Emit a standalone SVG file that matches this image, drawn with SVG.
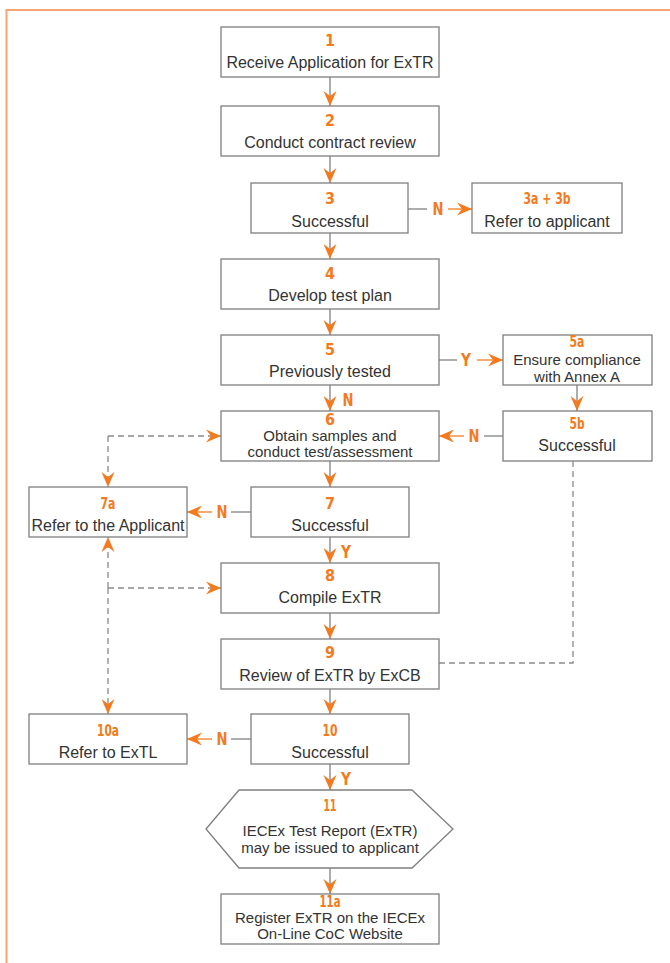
<svg xmlns="http://www.w3.org/2000/svg" width="670" height="963" viewBox="0 0 670 963">
<defs>
<style>
.box{fill:#fff;stroke:#7f7f7f;stroke-width:1.3}
.t{font-family:"Liberation Sans",Arial,sans-serif;font-size:16px;fill:#333;text-anchor:middle}
.s{font-size:15px}
.n{font-family:"Liberation Sans Narrow","DejaVu Sans Condensed","Liberation Sans",sans-serif;font-weight:bold;font-size:16px;fill:#F47A20;text-anchor:middle}
.lab{font-size:18px}
.c{stroke:#808080;stroke-width:1.3;fill:none}
.co{stroke:#F47A20;stroke-width:1.3;fill:none}
.d{stroke:#8a8a8a;stroke-width:1.3;fill:none;stroke-dasharray:6 4}
.frame{stroke:#F8A472;stroke-width:2;fill:none}
</style>
<marker id="ah" viewBox="-16 -8 17 16" refX="0" refY="0" markerWidth="17" markerHeight="16" markerUnits="userSpaceOnUse" orient="auto">
<path d="M0,0 L-15,-6.5 L-10,0 L-15,6.5 Z" fill="#F47A20"/>
</marker>
</defs>
<rect width="670" height="963" fill="#fff"/>
<path class="frame" d="M6.5,963 V10 H670"/>

<g id="connectors">
<path class="c" d="M330,77 V106" marker-end="url(#ah)"/>
<path class="c" d="M330,156 V183" marker-end="url(#ah)"/>
<path class="c" d="M330,233 V259" marker-end="url(#ah)"/>
<path class="c" d="M330,309 V335" marker-end="url(#ah)"/>
<path class="c" d="M330,385 V411" marker-end="url(#ah)"/>
<path class="c" d="M330,461 V487" marker-end="url(#ah)"/>
<path class="c" d="M330,537 V563" marker-end="url(#ah)"/>
<path class="c" d="M330,613 V639" marker-end="url(#ah)"/>
<path class="c" d="M330,689 V714" marker-end="url(#ah)"/>
<path class="c" d="M330,764 V790" marker-end="url(#ah)"/>
<path class="c" d="M330,868 V894" marker-end="url(#ah)"/>
<path class="c" d="M577,385 V411" marker-end="url(#ah)"/>
<path class="c" d="M408,209 H427"/>
<path class="co" d="M448,209 H472" marker-end="url(#ah)"/>
<path class="c" d="M439,360 H457"/>
<path class="co" d="M477,360 H503" marker-end="url(#ah)"/>
<path class="c" d="M503,436 H484"/>
<path class="co" d="M464,436 H439" marker-end="url(#ah)"/>
<path class="c" d="M251,512 H231"/>
<path class="co" d="M212,512 H187" marker-end="url(#ah)"/>
<path class="c" d="M251,739 H231"/>
<path class="co" d="M212,739 H187" marker-end="url(#ah)"/>
<path class="d" d="M108,436 H221" marker-end="url(#ah)"/>
<path class="d" d="M108,436 V487" marker-end="url(#ah)"/>
<path class="d" d="M108,588 V537" marker-end="url(#ah)"/>
<path class="d" d="M108,588 V714" marker-end="url(#ah)"/>
<path class="d" d="M108,588 H221" marker-end="url(#ah)"/>
<path class="d" d="M439,663 H573 V461"/>
<text class="n lab" x="438" y="215" textLength="11" lengthAdjust="spacingAndGlyphs">N</text>
<text class="n lab" x="466" y="366" textLength="10" lengthAdjust="spacingAndGlyphs">Y</text>
<text class="n lab" x="348" y="406" textLength="11" lengthAdjust="spacingAndGlyphs">N</text>
<text class="n lab" x="474" y="442" textLength="11" lengthAdjust="spacingAndGlyphs">N</text>
<text class="n lab" x="222" y="518" textLength="11" lengthAdjust="spacingAndGlyphs">N</text>
<text class="n lab" x="346" y="558" textLength="10" lengthAdjust="spacingAndGlyphs">Y</text>
<text class="n lab" x="222" y="745" textLength="11" lengthAdjust="spacingAndGlyphs">N</text>
<text class="n lab" x="346" y="785" textLength="10" lengthAdjust="spacingAndGlyphs">Y</text>
</g>

<g id="n1"><rect class="box" x="221" y="27" width="218" height="50"/>
<text class="n" x="330" y="46">1</text><text class="t" x="330" y="68">Receive Application for ExTR</text></g>
<g id="n2"><rect class="box" x="221" y="106" width="218" height="50"/>
<text class="n" x="330" y="126">2</text><text class="t" x="330" y="148">Conduct contract review</text></g>
<g id="n3"><rect class="box" x="251" y="183" width="157" height="50"/>
<text class="n" x="330" y="204">3</text><text class="t" x="330" y="227">Successful</text></g>
<g id="n3a"><rect class="box" x="472" y="183" width="150" height="50"/>
<text class="n" x="547" y="204" textLength="47" lengthAdjust="spacingAndGlyphs">3a + 3b</text><text class="t" x="547" y="227">Refer to applicant</text></g>
<g id="n4"><rect class="box" x="221" y="259" width="218" height="50"/>
<text class="n" x="330" y="279">4</text><text class="t" x="330" y="301">Develop test plan</text></g>
<g id="n5"><rect class="box" x="221" y="335" width="218" height="50"/>
<text class="n" x="330" y="355">5</text><text class="t" x="330" y="377">Previously tested</text></g>
<g id="n5a"><rect class="box" x="503" y="335" width="149" height="50"/>
<text class="n" x="577" y="347" textLength="15" lengthAdjust="spacingAndGlyphs">5a</text><text class="t s" x="577" y="365">Ensure compliance</text><text class="t s" x="577" y="382">with Annex A</text></g>
<g id="n6"><rect class="box" x="221" y="411" width="218" height="50"/>
<text class="n" x="330" y="425">6</text><text class="t s" x="330" y="441">Obtain samples and</text><text class="t s" x="330" y="457">conduct test/assessment</text></g>
<g id="n5b"><rect class="box" x="503" y="411" width="149" height="50"/>
<text class="n" x="577" y="429" textLength="15" lengthAdjust="spacingAndGlyphs">5b</text><text class="t" x="577" y="451">Successful</text></g>
<g id="n7a"><rect class="box" x="29" y="487" width="158" height="50"/>
<text class="n" x="108" y="509" textLength="15" lengthAdjust="spacingAndGlyphs">7a</text><text class="t" x="108" y="531">Refer to the Applicant</text></g>
<g id="n7"><rect class="box" x="251" y="487" width="158" height="50"/>
<text class="n" x="330" y="509">7</text><text class="t" x="330" y="531">Successful</text></g>
<g id="n8"><rect class="box" x="221" y="563" width="218" height="50"/>
<text class="n" x="330" y="581">8</text><text class="t" x="330" y="603">Compile ExTR</text></g>
<g id="n9"><rect class="box" x="221" y="639" width="218" height="50"/>
<text class="n" x="330" y="658">9</text><text class="t" x="330" y="681">Review of ExTR by ExCB</text></g>
<g id="n10a"><rect class="box" x="29" y="714" width="158" height="50"/>
<text class="n" x="108" y="736" textLength="22" lengthAdjust="spacingAndGlyphs">10a</text><text class="t" x="108" y="758">Refer to ExTL</text></g>
<g id="n10"><rect class="box" x="251" y="714" width="158" height="50"/>
<text class="n" x="330" y="736" textLength="15" lengthAdjust="spacingAndGlyphs">10</text><text class="t" x="330" y="758">Successful</text></g>
<g id="n11"><polygon class="box" points="206,829 239,790 412,790 453,829 412,868 239,868"/>
<text class="n" x="330" y="811" textLength="13" lengthAdjust="spacingAndGlyphs">11</text><text class="t s" x="330" y="836">IECEx Test Report (ExTR)</text><text class="t s" x="330" y="853">may be issued to applicant</text></g>
<g id="n11a"><rect class="box" x="221" y="894" width="218" height="50"/>
<text class="n" x="330" y="907" textLength="21" lengthAdjust="spacingAndGlyphs">11a</text><text class="t s" x="330" y="923">Register ExTR on the IECEx</text><text class="t s" x="330" y="939">On-Line CoC Website</text></g>
</svg>
